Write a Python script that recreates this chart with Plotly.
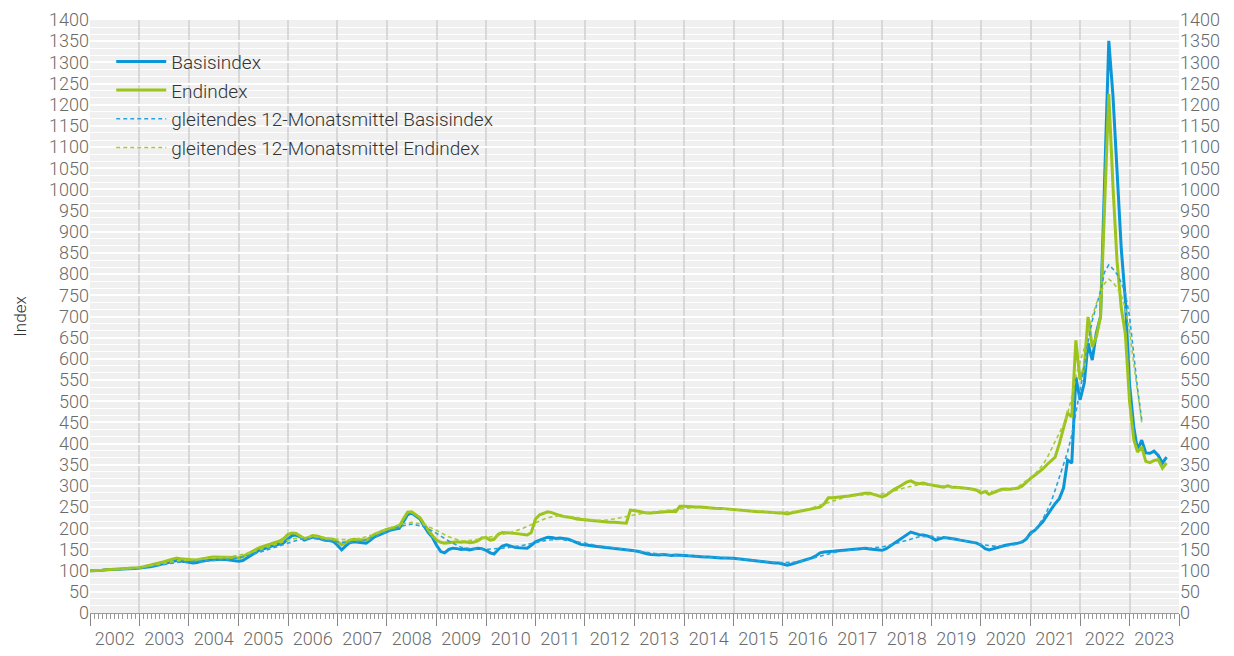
import pandas as pd
import plotly.graph_objects as go

# ---------------- data ----------------
start_month = "2002-01-01"

basisindex = [
    100, 100, 101, 101, 102, 102, 103, 103, 104, 104, 105, 105,   # 2002
    106, 107, 108, 110, 112, 115, 117, 119, 121, 124, 123, 122,   # 2003
    120, 118, 119, 122, 124, 125, 126, 127, 127, 126, 125, 124,   # 2004
    122, 124, 130, 137, 143, 148, 151, 155, 158, 160, 163, 166,   # 2005
    175, 183, 184, 180, 172, 175, 179, 178, 175, 172, 171, 169,   # 2006
    160, 149, 158, 166, 168, 167, 166, 165, 172, 180, 184, 188,   # 2007
    192, 196, 198, 200, 215, 232, 236, 230, 222, 205, 190, 179,   # 2008
    160, 145, 142, 150, 153, 152, 150, 151, 149, 151, 153, 152,   # 2009
    148, 142, 139, 150, 158, 161, 158, 155, 154, 153, 153, 160,   # 2010
    168, 172, 175, 179, 178, 176, 177, 175, 174, 170, 166, 162,   # 2011
    161, 159, 158, 157, 156, 154, 153, 152, 151, 150, 149, 149,   # 2012
    147, 145, 142, 140, 138, 137, 137, 138, 137, 136, 137, 137,   # 2013
    136, 135, 134, 133, 133, 132, 132, 131, 131, 130, 130, 130,   # 2014
    129, 128, 127, 125, 124, 122, 121, 120, 120, 119, 118, 118,   # 2015
    116, 113, 115, 118, 121, 124, 127, 130, 135, 142, 144, 145,   # 2016
    146, 147, 147, 148, 149, 150, 151, 152, 153, 151, 150, 149,   # 2017
    148, 152, 158, 165, 172, 178, 185, 191, 188, 185, 184, 182,   # 2018
    178, 172, 175, 178, 177, 176, 174, 172, 170, 168, 166, 165,   # 2019
    160, 152, 149, 152, 155, 158, 160, 162, 163, 165, 168, 175,   # 2020
    189, 195, 205, 215, 230, 245, 258, 270, 295, 361, 354, 557,   # 2021
    503, 543, 637, 597, 661, 700, 1050, 1351, 1220, 1040, 860, 740,  # 2022
    540, 440, 385, 408, 378, 377, 382, 372, 354, 368,             # 2023
]

endindex = [
    100, 100, 101, 101, 102, 102, 103, 104, 104, 105, 106, 106,   # 2002
    107, 109, 111, 113, 116, 119, 121, 124, 127, 130, 128, 127,   # 2003
    126, 125, 126, 128, 130, 131, 132, 132, 132, 131, 131, 131,   # 2004
    130, 133, 138, 144, 150, 154, 157, 160, 163, 166, 170, 176,   # 2005
    186, 189, 188, 182, 176, 178, 183, 182, 179, 176, 175, 174,   # 2006
    168, 161, 166, 172, 174, 173, 172, 172, 178, 186, 190, 194,   # 2007
    198, 200, 202, 205, 222, 238, 239, 233, 225, 210, 195, 183,   # 2008
    172, 167, 165, 166, 168, 168, 167, 168, 166, 167, 170, 177,   # 2009
    178, 172, 174, 186, 190, 190, 189, 188, 187, 185, 184, 190,   # 2010
    222, 232, 236, 239, 237, 233, 230, 228, 227, 225, 222, 221,   # 2011
    220, 219, 218, 216, 215, 215, 214, 214, 213, 212, 212, 243,   # 2012
    242, 240, 238, 236, 236, 237, 238, 238, 239, 240, 239, 252,   # 2013
    252, 251, 250, 250, 250, 249, 248, 248, 247, 247, 246, 245,   # 2014
    245, 244, 243, 242, 241, 240, 239, 239, 238, 238, 237, 236,   # 2015
    236, 234, 236, 238, 240, 242, 243, 246, 248, 250, 258, 272,   # 2016
    272, 273, 274, 274, 276, 278, 280, 281, 283, 283, 280, 276,   # 2017
    274, 278, 285, 292, 297, 303, 309, 312, 307, 305, 307, 304,   # 2018
    302, 300, 298, 297, 300, 297, 297, 296, 296, 294, 292, 290,   # 2019
    283, 287, 280, 285, 288, 292, 293, 292, 294, 295, 300, 310,   # 2020
    318, 325, 332, 340, 350, 360, 368, 400, 440, 472, 463, 644,   # 2021
    550, 580, 699, 628, 652, 700, 960, 1225, 1006, 830, 720, 660,  # 2022
    500, 410, 380, 392, 358, 355, 360, 362, 342, 354,             # 2023
]

# centred 12-month moving averages: quarterly points 2002-07..2020-10, then monthly 2021-01..2023-04
ma_basis = [
    102, 104,
    106, 110, 115, 119,
    121, 123, 124, 126,
    130, 137, 146, 156,
    166, 174, 176, 172,
    168, 166, 170, 180,
    192, 204, 210, 204,
    188, 170, 155, 151,
    150, 152, 155, 160,
    166, 172, 174, 170,
    165, 159, 155, 151,
    147, 142, 139, 137,
    135, 134, 132, 131,
    129, 126, 123, 120,
    119, 120, 126, 134,
    142, 147, 150, 152,
    156, 163, 172, 180,
    181, 177, 174, 168,
    162, 158, 158, 163,
    185, 195, 207, 222, 240, 262, 290, 320, 350, 380, 420, 470,
    520, 580, 640, 690, 725, 760, 805, 822, 812, 800, 780, 755,
    700, 610, 530, 455,
]

ma_end = [
    102, 104,
    107, 112, 118, 123,
    126, 128, 130, 132,
    136, 143, 152, 162,
    172, 179, 181, 178,
    174, 173, 177, 186,
    197, 209, 214, 209,
    195, 180, 170, 172,
    178, 183, 190, 200,
    213, 225, 230, 227,
    222, 218, 220, 226,
    232, 237, 240, 244,
    247, 249, 248, 246,
    244, 242, 240, 238,
    238, 240, 245, 255,
    265, 273, 278, 279,
    281, 288, 297, 303,
    303, 300, 297, 293,
    289, 287, 290, 298,
    320, 328, 338, 350, 365, 385, 405, 425, 445, 470, 510, 560,
    590, 625, 660, 700, 730, 755, 778, 788, 780, 768, 750, 720,
    665, 590, 520, 450,
]

y_tick_values = list(range(0, 1401, 50))

series_names = [
    "Basisindex",
    "Endindex",
    "gleitendes 12-Monatsmittel Basisindex",
    "gleitendes 12-Monatsmittel Endindex",
]

# ---------------- figure ----------------
BLUE = "#0a96d7"
GREEN = "#9cc41c"
TXT = "#6a6a6a"
FONT = "Roboto, 'DejaVu Sans', sans-serif"

months = pd.date_range(start_month, periods=len(basisindex), freq="MS")
ma_dates = list(pd.date_range("2002-07-01", "2020-10-01", freq="3MS")) + \
    list(pd.date_range("2021-01-01", "2023-04-01", freq="MS"))

fig = go.Figure()
fig.add_trace(go.Scatter(x=months, y=basisindex, mode="lines", name=series_names[0],
                         legendgroup="a", line=dict(color=BLUE, width=3)))
fig.add_trace(go.Scatter(x=months, y=endindex, mode="lines", name=series_names[1],
                         legendgroup="b", line=dict(color=GREEN, width=3)))
fig.add_trace(go.Scatter(x=ma_dates, y=ma_basis, mode="lines", name=series_names[2],
                         legendgroup="c", line=dict(color="#2aa3df", width=1.6, dash="4px,3px")))
fig.add_trace(go.Scatter(x=ma_dates, y=ma_end, mode="lines", name=series_names[3],
                         legendgroup="d", line=dict(color="#a8cb35", width=1.6, dash="4px,3px")))
# invisible trace to make the right axis appear
fig.add_trace(go.Scatter(x=months, y=basisindex, yaxis="y2", mode="lines",
                         line=dict(width=0), opacity=0, showlegend=False, hoverinfo="skip"))

yaxis_common = dict(
    range=[0, 1400],
    tickvals=y_tick_values,
    ticktext=[str(v) for v in y_tick_values],
    tickfont=dict(family=FONT, size=18, color=TXT, weight=300),
    ticks="",
    zeroline=False,
    fixedrange=True,
    automargin=False,
)

# the page adds an 8px body margin, so the figure is sized to fit inside it
fig.update_layout(
    width=1218, height=640,
    margin=dict(l=82, r=47, t=12, b=35),
    paper_bgcolor="white",
    plot_bgcolor="#eff0ef",
    font=dict(family=FONT, color=TXT, size=17),
    showlegend=True,
    legend=dict(
        x=0.0195, y=0.962, xanchor="left", yanchor="top",
        bgcolor="rgba(0,0,0,0)", borderwidth=0,
        font=dict(family=FONT, size=19, color="#333333", weight=300),
        tracegroupgap=1, itemwidth=50,
    ),
    xaxis=dict(
        type="date",
        range=["2002-01-01", "2024-01-01"],
        tick0="2002-01-01", dtick="M12",
        tickformat="%Y",
        ticklabelmode="period",
        ticks="outside", ticklen=12, tickwidth=1.2, tickcolor="#888888",
        tickfont=dict(family=FONT, size=18, color=TXT, weight=300),
        ticklabelstandoff=-3,
        showgrid=True, gridcolor="#d8d8d8", gridwidth=1.5,
        showline=True, linecolor="#9a9a9a", linewidth=1,
        minor=dict(dtick="M1", ticks="outside", ticklen=5, tickcolor="#999999",
                   tickwidth=1, showgrid=False),
        zeroline=False,
        automargin=False,
    ),
    yaxis=dict(
        **yaxis_common,
        side="left",
        showgrid=True, gridcolor="#ffffff", gridwidth=1.5,
        minor=dict(dtick=50 / 3, showgrid=True, gridcolor="#ffffff", gridwidth=1.2),
        title=dict(text="Index", font=dict(family=FONT, size=17, color="#333333", weight=300),
                   standoff=18),
    ),
    yaxis2=dict(
        **yaxis_common,
        side="right", overlaying="y",
        showgrid=False,
    ),
)

fig.write_html("out.html")
